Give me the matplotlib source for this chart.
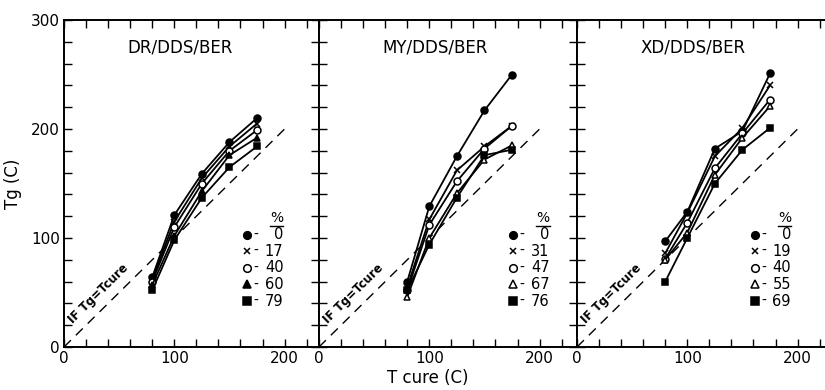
import matplotlib.pyplot as plt
from matplotlib.ticker import FuncFormatter

# cure temperatures (C)
t_cure = [80, 100, 125, 150, 175]

titles = ["DR/DDS/BER", "MY/DDS/BER", "XD/DDS/BER"]

# percent labels for each panel
pct_dr = ["0", "17", "40", "60", "79"]
pct_my = ["0", "31", "47", "67", "76"]
pct_xd = ["0", "19", "40", "55", "69"]

# Tg values (C), one list per composition
tg_dr = [
    [64, 121, 159, 188, 210],
    [62, 115, 155, 184, 205],
    [60, 110, 150, 180, 199],
    [57, 102, 143, 176, 192],
    [52, 98, 137, 165, 184],
]
tg_my = [
    [60, 129, 175, 217, 250],
    [55, 117, 162, 184, 203],
    [52, 112, 152, 182, 203],
    [46, 100, 141, 172, 185],
    [52, 94, 137, 176, 181],
]
tg_xd = [
    [97, 124, 182, 198, 251],
    [86, 123, 175, 201, 240],
    [81, 114, 164, 196, 227],
    [80, 105, 158, 192, 221],
    [60, 100, 150, 181, 201],
]

diag = [0, 203]

# marker, face colour per series
styles_dr = [("o", "k"), ("x", "k"), ("o", "w"), ("^", "k"), ("s", "k")]
styles_oth = [("o", "k"), ("x", "k"), ("o", "w"), ("^", "w"), ("s", "k")]

panels = [
    (titles[0], tg_dr, pct_dr, styles_dr, 166),
    (titles[1], tg_my, pct_my, styles_oth, 176),
    (titles[2], tg_xd, pct_xd, styles_oth, 161),
]

W, H = 825, 390
fig = plt.figure(figsize=(W / 100, H / 100), dpi=100)
lefts = [64, 319, 577]
widths = [255, 258, 256]
px_per_unit = 1.103

for i, (title, series, pcts, styles, lx) in enumerate(panels):
    ax = fig.add_axes([lefts[i] / W, 43 / H, widths[i] / W, 327 / H])
    ax.set_xlim(0, widths[i] / px_per_unit)
    ax.set_ylim(0, 300)

    ax.plot(diag, diag, color="k", lw=1, dashes=(7, 5))
    ax.text(10, 19, "IF Tg=Tcure", rotation=44.7, rotation_mode="anchor",
            fontsize=8.5, fontweight="bold", ha="left", va="bottom")

    for vals, (m, fc) in zip(series, styles):
        ax.plot(t_cure, vals, color="k", lw=1.3, marker=m, ms=5 if m != "x" else 4,
                mfc=fc, mec="k", mew=1.1)

    ax.text(105, 275, title, ha="center", va="center", fontsize=12)

    # hand-drawn style key
    y0 = 103
    ax.text(lx + 27, y0 + 15, "%", ha="center", va="center", fontsize=10)
    ax.plot([lx + 21, lx + 33], [y0 + 8, y0 + 8], color="k", lw=1)
    for j, ((m, fc), p) in enumerate(zip(styles, pcts)):
        yy = y0 - j * 15.2
        ax.plot([lx], [yy], marker=m, ms=5.5 if m != "x" else 4, mfc=fc, mec="k",
                mew=1.1, color="k", ls="none")
        ax.text(lx + 6, yy, "-", ha="left", va="center", fontsize=10)
        ax.text(lx + 33, yy, p, ha="right", va="center", fontsize=10.5)

    ax.set_xticks(range(0, 221, 20))
    ax.set_yticks(range(0, 301, 20))
    ax.xaxis.set_major_formatter(FuncFormatter(lambda v, pos: "%d" % v if v % 100 == 0 else ""))
    ax.yaxis.set_major_formatter(FuncFormatter(lambda v, pos: "%d" % v if v % 100 == 0 else ""))
    ax.tick_params(direction="in", length=6, width=1, top=True, right=True,
                   labelsize=11, pad=3)
    if i > 0:
        ax.tick_params(labelleft=False)
    else:
        ax.set_ylabel("Tg (C)", fontsize=12, labelpad=6)
    for s in ax.spines.values():
        s.set_linewidth(1.4)

fig.text(428 / W, 12 / H, "T cure (C)", ha="center", va="center", fontsize=12)

fig.savefig("out.png", dpi=100)
